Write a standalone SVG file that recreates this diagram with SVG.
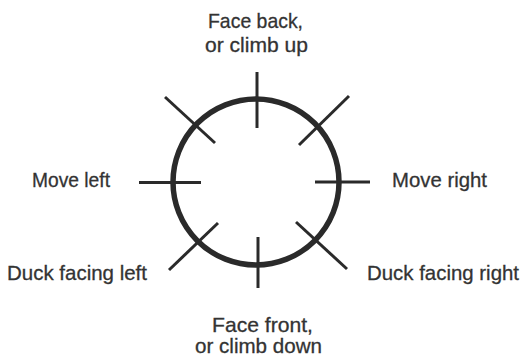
<svg xmlns="http://www.w3.org/2000/svg" width="522" height="359" viewBox="0 0 522 359">
<style>
.lbl{font-family:"Liberation Sans Narrow","Liberation Sans",Arial,sans-serif;font-size:21px;fill:#333;stroke:#333;stroke-width:0.3;}
.tick{stroke:#2a2a2a;stroke-width:3;stroke-linecap:butt;}
.ring{fill:none;stroke:#2a2a2a;stroke-width:5.5;}
</style>
<rect width="522" height="359" fill="#fff"/>
<g id="circle">
<circle class="ring" cx="256" cy="182" r="83"/>
</g>
<g id="connectors">
<line class="tick" x1="257" y1="72" x2="257" y2="128"/>
<line class="tick" x1="258" y1="237" x2="258" y2="288"/>
<line class="tick" x1="139" y1="182.5" x2="201" y2="182.5"/>
<line class="tick" x1="315" y1="182" x2="370" y2="182"/>
<line class="tick" x1="165" y1="97" x2="215" y2="143"/>
<line class="tick" x1="349" y1="96" x2="299" y2="145"/>
<line class="tick" x1="218" y1="223" x2="169" y2="270"/>
<line class="tick" x1="296" y1="222" x2="347" y2="269"/>
</g>
<g id="label-up">
<text class="lbl" x="208" y="28" textLength="95" lengthAdjust="spacingAndGlyphs">Face back,</text>
<text class="lbl" x="205" y="52" textLength="103" lengthAdjust="spacingAndGlyphs">or climb up</text>
</g>
<g id="label-down">
<text class="lbl" x="212" y="332" textLength="101" lengthAdjust="spacingAndGlyphs">Face front,</text>
<text class="lbl" x="195" y="353" textLength="127" lengthAdjust="spacingAndGlyphs">or climb down</text>
</g>
<g id="label-left">
<text class="lbl" x="32" y="187" textLength="78" lengthAdjust="spacingAndGlyphs">Move left</text>
</g>
<g id="label-right">
<text class="lbl" x="392" y="187" textLength="95" lengthAdjust="spacingAndGlyphs">Move right</text>
</g>
<g id="label-duck-left">
<text class="lbl" x="7" y="280" textLength="140" lengthAdjust="spacingAndGlyphs">Duck facing left</text>
</g>
<g id="label-duck-right">
<text class="lbl" x="367" y="280" textLength="152" lengthAdjust="spacingAndGlyphs">Duck facing right</text>
</g>
</svg>
